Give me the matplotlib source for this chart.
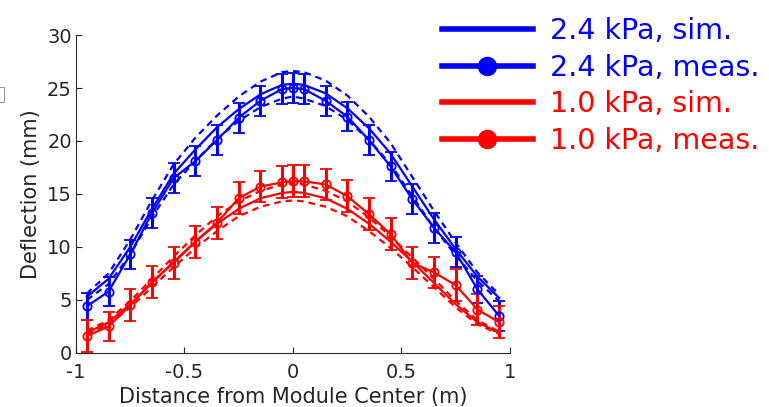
import numpy as np
import matplotlib
matplotlib.use("Agg")
import matplotlib.pyplot as plt
from matplotlib.lines import Line2D
from matplotlib.patches import Rectangle

# positions along the module (m)
x = [-0.95, -0.85, -0.75, -0.65, -0.55, -0.45, -0.35, -0.25, -0.15, -0.05, 0.0,
     0.05, 0.15, 0.25, 0.35, 0.45, 0.55, 0.65, 0.75, 0.85, 0.95]

# 2.4 kPa
hi_meas = [4.4, 5.8, 9.3, 13.2, 16.5, 18.1, 20.1, 22.2, 23.8, 24.9, 25.0,
           24.9, 23.8, 22.3, 20.1, 17.6, 14.5, 11.8, 9.5, 6.0, 3.5]
hi_err = [1.3, 1.4, 1.4, 1.4, 1.4, 1.4, 1.4, 1.4, 1.4, 1.4, 1.4,
          1.4, 1.4, 1.4, 1.4, 1.4, 1.4, 1.4, 1.4, 1.3, 1.4]
hi_sim = [5.3, 7.0, 10.0, 13.6, 16.9, 19.2, 21.3, 23.0, 24.4, 25.3, 25.4,
          25.3, 24.5, 23.1, 21.2, 18.8, 15.7, 12.6, 9.8, 7.2, 5.2]
hi_sim_up = [5.6, 7.5, 10.7, 14.4, 17.8, 20.3, 22.4, 24.2, 25.6, 26.5, 26.6,
             26.5, 25.7, 24.3, 22.3, 19.8, 16.6, 13.4, 10.4, 7.6, 5.5]
hi_sim_lo = [5.0, 6.5, 9.3, 12.8, 15.9, 18.1, 20.2, 21.9, 23.2, 24.0, 24.2,
             24.0, 23.3, 22.0, 20.1, 17.8, 14.8, 11.8, 9.2, 6.8, 4.9]

# 1.0 kPa
lo_meas = [1.6, 2.5, 4.5, 6.7, 8.5, 10.5, 12.3, 14.6, 15.7, 16.1, 16.2,
           16.2, 15.9, 14.8, 13.1, 11.2, 8.5, 7.6, 6.4, 4.1, 2.9]
lo_err = [1.5, 1.4, 1.5, 1.5, 1.5, 1.5, 1.5, 1.5, 1.5, 1.5, 1.5,
          1.5, 1.5, 1.5, 1.5, 1.5, 1.5, 1.5, 1.5, 1.5, 1.5]
lo_sim = [1.9, 2.9, 4.6, 6.6, 8.6, 10.5, 12.2, 13.6, 14.6, 15.1, 15.2,
          15.1, 14.6, 13.6, 12.2, 10.5, 8.6, 6.6, 4.6, 2.9, 1.9]
lo_sim_up = [2.1, 3.1, 4.9, 7.0, 9.1, 11.1, 12.9, 14.3, 15.3, 15.9, 16.0,
             15.9, 15.3, 14.3, 12.8, 11.0, 9.0, 7.0, 4.9, 3.1, 2.0]
lo_sim_lo = [1.8, 2.7, 4.3, 6.2, 8.1, 9.9, 11.5, 12.9, 13.8, 14.3, 14.4,
             14.3, 13.8, 12.9, 11.5, 9.9, 8.1, 6.2, 4.3, 2.7, 1.8]

labels = ["2.4 kPa, sim.", "2.4 kPa, meas.", "1.0 kPa, sim.", "1.0 kPa, meas."]
blue = (0, 0, 1)
red = (1, 0, 0)
axis_gray = "#262626"

plt.rcParams["font.family"] = "DejaVu Sans"

fig = plt.figure(figsize=(7.69, 4.07), dpi=100)
ax = fig.add_axes([0.0988, 0.1327, 0.5644, 0.7813])

for col, meas, err, sim, up, lo in [(blue, hi_meas, hi_err, hi_sim, hi_sim_up, hi_sim_lo),
                                     (red, lo_meas, lo_err, lo_sim, lo_sim_up, lo_sim_lo)]:
    ax.plot(x, sim, color=col, lw=1.6)
    ax.plot(x, up, color=col, lw=1.6, ls=(0, (3, 2.2)))
    ax.plot(x, lo, color=col, lw=1.6, ls=(0, (3, 2.2)))
    ax.errorbar(x, meas, yerr=err, color=col, lw=1.6, marker="o", ms=6,
                mfc="none", mew=1.3, elinewidth=2.2, capsize=4.5, capthick=2.2)

ax.set_xlim(-1, 1)
ax.set_ylim(0, 30)
ax.set_xticks([-1, -0.5, 0, 0.5, 1])
ax.set_xticklabels(["-1", "-0.5", "0", "0.5", "1"])
ax.set_yticks([0, 5, 10, 15, 20, 25, 30])
ax.tick_params(direction="in", length=4, width=0.8, colors=axis_gray, labelsize=14)
ax.tick_params(axis="x", pad=7)
ax.tick_params(axis="y", pad=3)
for side in ["top", "right"]:
    ax.spines[side].set_visible(False)
for side in ["left", "bottom"]:
    ax.spines[side].set_color(axis_gray)
ax.set_xlabel("Distance from Module Center (m)", fontsize=15, color=axis_gray, labelpad=4)
ax.set_ylabel("Deflection (mm)", fontsize=15, color=axis_gray, labelpad=4)

handles = [
    Line2D([], [], color=blue, lw=4),
    Line2D([], [], color=blue, lw=4, marker="o", ms=13),
    Line2D([], [], color=red, lw=4),
    Line2D([], [], color=red, lw=4, marker="o", ms=13),
]
fig.legend(handles, labels, loc="upper left", bbox_to_anchor=(0.552, 1.0),
           frameon=False, fontsize=20.5, labelcolor=[blue, blue, red, red],
           handlelength=3.2, handletextpad=0.6, labelspacing=0.3,
           borderaxespad=0.2)

# stray box edge at the left margin
fig.patches.append(Rectangle((-0.01, 0.75), 0.015, 0.036, transform=fig.transFigure,
                             fill=False, ec="#999999", lw=0.8))

fig.savefig("out.png", dpi=100)
